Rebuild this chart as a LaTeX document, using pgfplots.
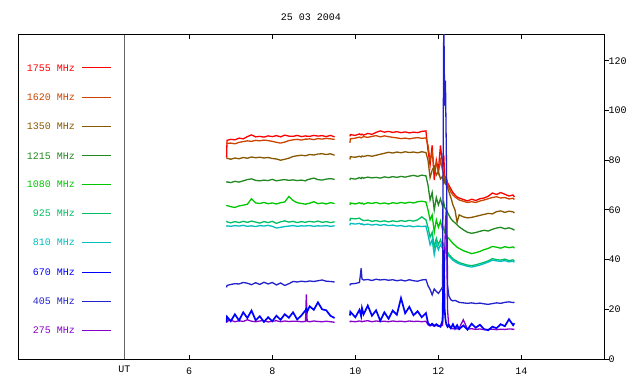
\documentclass[border=0pt]{standalone}
\usepackage{fontspec}
\setmainfont{Liberation Mono}
\usepackage{pgfplots}
\usepackage{pgfplotstable}
\pgfplotsset{compat=1.18}
\definecolor{c1755}{RGB}{255,0,0}
\definecolor{c1620}{RGB}{204,68,0}
\definecolor{c1350}{RGB}{136,88,0}
\definecolor{c1215}{RGB}{34,136,34}
\definecolor{c1080}{RGB}{0,200,0}
\definecolor{c925}{RGB}{0,190,100}
\definecolor{c810}{RGB}{0,190,190}
\definecolor{c670}{RGB}{0,0,255}
\definecolor{c405}{RGB}{34,34,204}
\definecolor{c275}{RGB}{136,0,204}
\pgfplotstableread{
x r o b dg g t c bl db p
6.90 81.0 86.6 80.6 71.0 61.5 55.6 53.3 14.8 28.8 14.6
6.91 88.0 86.8 80.8 71.3 61.8 55.2 53.6 17.0 29.6 15.2
7.0 88.4 86.9 80.4 71.0 61.3 54.8 53.4 15.2 30.0 15.6
7.1 88.2 86.6 80.9 71.5 61.0 55.3 53.7 18.0 30.3 15.0
7.2 88.9 87.2 80.6 71.2 61.6 54.9 53.5 15.5 30.2 15.4
7.3 88.6 87.5 81.1 71.7 61.9 55.4 53.8 18.8 30.8 15.1
7.4 89.5 87.8 80.8 72.2 62.3 55.0 53.4 16.5 30.5 15.8
7.5 90.2 87.6 81.3 72.5 64.5 55.5 53.6 19.5 29.9 15.2
7.6 89.4 88.0 81.0 71.9 62.8 55.1 53.3 15.6 30.7 15.0
7.7 89.6 87.8 81.2 71.7 62.6 54.7 53.7 17.2 30.0 15.3
7.8 89.3 88.1 80.9 72.0 63.0 55.3 53.5 14.9 30.9 15.5
7.9 89.8 87.9 81.1 71.8 62.5 54.9 53.8 16.8 30.2 14.9
8.0 89.5 87.6 80.7 72.3 62.8 55.4 53.4 15.2 30.8 15.2
8.1 89.9 87.2 80.5 71.7 62.4 54.6 52.7 17.4 29.8 15.4
8.2 89.4 86.9 80.0 72.0 62.9 55.2 53.0 15.8 30.6 15.0
8.3 90.1 87.3 80.4 72.2 63.2 55.6 53.3 18.0 29.6 15.3
8.4 89.7 87.9 80.8 71.9 65.4 55.1 53.5 16.6 30.3 15.1
8.5 89.6 88.2 81.5 72.1 63.8 55.4 53.7 18.8 31.2 15.2
8.6 90.0 88.4 81.8 71.8 62.9 54.9 53.4 15.9 31.0 15.2
8.7 89.5 88.1 82.0 72.0 62.6 55.3 53.6 17.5 31.3 15.0
8.8 89.8 88.5 81.8 71.7 62.3 55.0 53.5 19.6 31.1 15.1
8.82 89.7 88.5 81.9 71.9 62.4 55.1 53.6 20.2 31.2 26.0
8.84 89.7 88.5 82.0 72.1 62.5 55.2 53.6 19.0 31.2 15.2
8.9 89.6 88.6 82.3 72.4 62.7 55.4 53.7 21.2 31.4 15.0
9.0 90.0 88.3 82.1 72.8 63.3 55.1 53.4 19.8 31.2 15.3
9.1 89.7 88.7 82.5 72.2 62.5 55.5 53.6 22.8 31.5 15.1
9.2 89.9 88.5 82.6 72.0 62.8 55.0 53.5 20.0 31.8 15.0
9.3 89.5 88.8 82.3 72.4 62.4 55.3 53.7 19.6 31.3 15.2
9.4 90.0 88.6 82.6 72.6 62.9 54.9 53.4 17.4 31.2 15.0
9.5 89.4 88.4 82.0 72.3 62.6 55.2 53.6 16.5 31.0 14.8
nan nan nan nan nan nan nan nan nan nan nan
9.87 89.6 87.0 80.3 72.0 62.0 55.5 53.8 17.5 29.6 14.8
9.88 90.3 88.6 81.4 72.7 62.8 56.6 54.6 19.0 30.2 15.2
10.0 90.0 88.9 81.2 72.4 62.4 56.4 54.3 16.8 30.4 15.0
10.1 90.6 89.3 81.6 73.0 62.9 56.7 54.6 19.8 30.8 15.3
10.14 90.2 89.0 81.3 72.6 62.5 56.2 54.2 17.2 36.5 15.1
10.16 90.5 89.2 81.7 73.1 62.8 56.0 54.4 20.5 32.2 15.0
10.2 90.1 89.5 81.5 72.8 62.3 55.7 54.0 18.0 31.8 15.2
10.3 90.8 89.2 81.9 73.2 62.9 55.9 54.3 21.5 32.0 15.4
10.4 90.4 89.6 81.6 72.9 62.6 55.4 53.9 17.4 31.6 15.0
10.5 91.2 89.9 82.0 73.1 63.0 55.7 54.2 19.6 32.1 15.3
10.6 91.8 89.4 82.4 72.8 62.5 55.3 53.8 15.4 31.8 15.1
10.7 91.3 89.8 82.8 73.3 62.8 55.6 54.1 18.8 32.0 15.2
10.8 91.6 89.5 83.2 73.0 62.4 55.2 53.7 16.2 31.7 15.0
10.9 91.2 89.2 82.9 73.4 62.9 55.6 53.9 19.5 31.9 15.3
11.0 91.5 89.0 83.3 73.1 62.6 55.3 53.5 17.8 31.5 15.1
11.1 91.1 88.7 83.0 73.5 63.0 55.7 53.7 24.5 31.8 15.2
11.2 91.4 88.9 83.4 73.2 62.7 55.4 53.3 18.4 31.4 15.0
11.3 91.0 88.6 83.1 73.6 63.1 55.8 53.6 21.0 31.9 15.3
11.4 91.3 88.9 83.3 73.9 62.8 55.5 53.2 17.6 31.5 15.1
11.5 91.1 89.1 83.0 73.5 63.3 56.0 53.5 19.2 31.3 15.2
11.6 91.6 88.8 83.4 74.0 63.5 57.2 53.3 16.8 31.8 15.0
11.7 91.8 89.0 83.1 73.7 63.2 56.0 53.5 18.5 32.0 15.2
11.75 84 86 80 70 60 53 50 14.5 29.5 13.8
11.8 78 80 73 64 56 49 46 13.5 28.0 13.4
11.85 86 83 76 67 58 51 48 14.2 25.8 13.6
11.9 72 76 77.5 60 51 45 42 13.3 28.2 13.3
11.95 80 79 74 65 56 48.5 46.5 14.0 27.2 13.5
12.0 76 75 75.5 62 53 46 44 13.4 26.4 13.2
12.05 86 80 72.5 64.5 55.5 48 46 13.0 27.6 13.4
12.1 78 76 73.5 61.5 52 45.5 44.5 15.5 29.0 13.5
12.13 82 74 71 63 53 46.5 45 44 140 25
12.15 74 73 72 61 51 45 43.5 20 102 40
12.17 72 72 70.5 60.5 50.5 44 43 16 112 55
12.19 73 72.5 71 60 50 43.5 42.5 14 85 60
12.22 71 70 69 59 49 43 42 13 30 20
12.25 70 69 67.5 58 48.5 42.2 41.5 13.8 25.5 13
12.3 68.5 67.2 65 56.5 47.5 41.2 40.6 12.4 23.8 12.4
12.35 67 66 62 55.5 46.5 40.3 39.8 14.0 23.4 12.2
12.4 66 65.2 60 54.8 45.8 39.8 39.2 12.2 23.6 12.3
12.45 65.2 64.6 55 54 45 39.3 38.7 13.6 23.2 12.1
12.5 64.8 64.0 58 53.2 44.5 38.8 38.3 12.0 22.8 12.4
12.6 64.2 63.5 57.2 52.0 43.6 38.3 37.8 13.5 22.6 15.8
12.7 63.6 63.0 56.8 51.0 43.0 37.8 37.3 11.8 22.4 12.0
12.8 64.3 63.3 57.0 50.6 42.4 37.6 37.0 14.2 22.6 12.2
12.9 63.8 63.0 57.4 50.9 42.8 37.9 37.4 12.6 22.3 11.9
13.0 64.5 63.6 57.8 51.4 43.3 38.4 37.8 13.8 22.5 12.1
13.1 64.8 64.0 58.2 51.8 44.0 38.9 38.4 12.0 22.2 11.8
13.2 65.5 64.5 58.6 51.5 44.5 39.5 39.0 11.6 22.0 11.9
13.3 66.8 65.0 58.4 52.2 45.3 40.4 39.8 13.0 22.3 12.0
13.4 66.2 65.3 59.3 52.7 45.0 40.0 39.5 12.4 22.6 11.8
13.5 67.0 64.8 59.6 53.0 44.6 39.8 39.3 14.0 22.4 12.0
13.6 66.3 65.0 59.0 52.4 45.2 40.2 39.6 13.2 22.8 11.9
13.7 65.6 64.4 59.5 52.8 44.8 39.6 39.1 16.0 23.0 12.1
13.8 66.0 64.7 59.2 52.2 45.1 39.9 39.4 13.6 22.7 12.0
13.83 65.2 64.2 58.8 51.8 44.6 39.4 38.9 14.4 22.9 11.9
}\data
\begin{document}
\fontsize{10bp}{12bp}\selectfont
\begin{tikzpicture}
\useasboundingbox (0,0) rectangle (640bp,384bp);
\begin{axis}[
  at={(18bp,25bp)}, anchor=south west,
  scale only axis, width=586.5bp, height=324bp,
  xmin=1.877, xmax=16, ymin=0, ymax=130.4,
  xtick={6,8,10,12,14}, ytick={0,20,40,60,80,100,120},
  tick align=inside, xtick pos=both, ytick pos=right, yticklabel pos=right,
  major tick length=4bp,
  tick style={black, line width=1bp},
  ytick style={xshift=4bp},
  axis line style={line width=1bp},
  font=\fontsize{10bp}{12bp}\selectfont,
  /pgf/number format/assume math mode=true,
  xticklabel style={yshift=-5.5bp},
  yticklabel style={xshift=0.5bp},
  extra x ticks={4.44}, extra x tick labels={UT},
  extra x tick style={grid=major, major tick length=0pt, xticklabel style={yshift=2bp}},
  major grid style={black!60, line width=1bp},
  unbounded coords=jump,
  every axis plot/.append style={line width=1.3bp, no marks},
]
\addplot[c1755] table[x=x,y=r]{\data};
\addplot[c1620] table[x=x,y=o]{\data};
\addplot[c1350] table[x=x,y=b]{\data};
\addplot[c1215] table[x=x,y=dg]{\data};
\addplot[c1080] table[x=x,y=g]{\data};
\addplot[c925] table[x=x,y=t]{\data};
\addplot[c810] table[x=x,y=c]{\data};
\addplot[c275] table[x=x,y=p]{\data};
\addplot[c670, line width=1.7bp] table[x=x,y=bl]{\data};
\addplot[c405] table[x=x,y=db]{\data};
% legend
\foreach \lab/\col/\yy in {1755/c1755/117.2, 1620/c1620/105.2, 1350/c1350/93.5, 1215/c1215/81.8, 1080/c1080/70.3, 925/c925/58.6, 810/c810/47.0, 670/c670/34.9, 405/c405/23.2, 275/c275/11.5}{
  \edef\temp{\noexpand\node[anchor=east, inner sep=0pt, text=\col] at (axis cs:3.249,\yy) {\lab\space MHz};
  \noexpand\draw[draw=\col, line width=1bp] (axis cs:3.425,\yy) -- (axis cs:4.108,\yy);}
  \temp
}
\end{axis}
\node at (311bp,366.3bp) {25 03 2004};
\end{tikzpicture}
\end{document}
